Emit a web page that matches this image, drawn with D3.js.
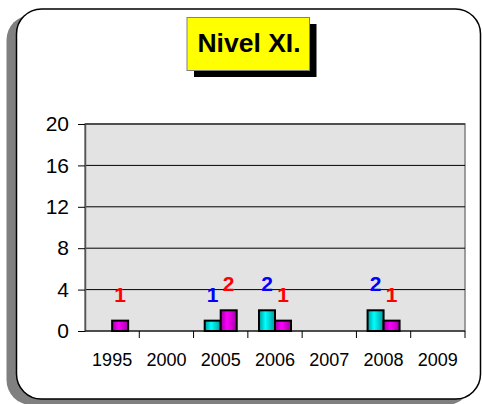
<!DOCTYPE html>
<html>
  <head>
    <meta charset="utf-8" />
    <script src="https://d3js.org/d3.v7.min.js"></script>
    <style>
      body { margin: 0; background: #fff; }
      svg { display: block; font-family: Arial, "Liberation Sans", sans-serif; }
    </style>
  </head>
  <body>
    <svg id="chart" width="482" height="404"></svg>
    <script>
      // chart values
      var years = ["1995", "2000", "2005", "2006", "2007", "2008", "2009"];
      var serieA = [null, null, 1, 2, null, 2, null]; // cyan, blue labels
      var serieB = [1, null, 2, 1, null, 1, null];    // magenta, red labels
      var yTicks = [0, 4, 8, 12, 16, 20];
      var titulo = "Nivel XI.";

      var svg = d3.select("#chart");
      var defs = svg.append("defs");

      function grad(id, dark, light) {
        var g = defs.append("linearGradient").attr("id", id)
          .attr("x1", "0%").attr("x2", "100%").attr("y1", "0%").attr("y2", "0%");
        g.append("stop").attr("offset", "0%").attr("stop-color", dark);
        g.append("stop").attr("offset", "40%").attr("stop-color", light);
        g.append("stop").attr("offset", "100%").attr("stop-color", dark);
      }
      grad("gA", "#009a9a", "#00ffff");
      grad("gB", "#a000a0", "#ff00ff");

      // card + shadow
      svg.append("rect").attr("x", 6.5).attr("y", 15).attr("width", 465).attr("height", 390)
        .attr("rx", 25).attr("fill", "#808080");
      svg.append("rect").attr("x", 16.5).attr("y", 9).attr("width", 464).attr("height", 390)
        .attr("rx", 25).attr("fill", "#fff").attr("stroke", "#000").attr("stroke-width", 1.5);

      var margin = { left: 85, right: 17, top: 124, bottom: 73 };
      var W = 482, H = 404;

      var x = d3.scaleBand().domain(years).range([margin.left, W - margin.right]);
      var y = d3.scaleLinear().domain([0, 20]).range([H - margin.bottom, margin.top]);

      // plot area
      svg.append("rect").attr("x", x.range()[0]).attr("y", y(20))
        .attr("width", x.range()[1] - x.range()[0]).attr("height", y(0) - y(20))
        .attr("fill", "#e3e3e3").attr("stroke", "#808080").attr("stroke-width", 1.5);

      // gridlines
      svg.append("g").selectAll("line").data(yTicks.filter(function (d) { return d > 0; }))
        .join("line")
        .attr("x1", margin.left).attr("x2", W - margin.right)
        .attr("y1", function (d) { return y(d); }).attr("y2", function (d) { return y(d); })
        .attr("stroke", "#000").attr("stroke-width", 1);

      // y axis
      var yAxis = svg.append("g").attr("transform", "translate(" + margin.left + ",0)")
        .call(d3.axisLeft(y).tickValues(yTicks).tickSize(7).tickPadding(9).tickSizeOuter(0));
      yAxis.select(".domain").attr("stroke", "#555").attr("stroke-width", 1.5);
      yAxis.selectAll(".tick line").attr("stroke", "#000");
      yAxis.selectAll("text").attr("font-size", 21).attr("fill", "#000")
        .attr("font-family", "Arial, 'Liberation Sans', sans-serif");

      // x axis (ticks at category boundaries)
      var bounds = years.map(function (d) { return x(d); }).concat([x.range()[1]]);
      svg.append("line").attr("x1", margin.left).attr("x2", W - margin.right)
        .attr("y1", y(0)).attr("y2", y(0)).attr("stroke", "#000").attr("stroke-width", 1.2);
      svg.append("g").selectAll("line").data(bounds.slice(1)).join("line")
        .attr("x1", function (d) { return d; }).attr("x2", function (d) { return d; })
        .attr("y1", y(0)).attr("y2", y(0) + 7).attr("stroke", "#000");
      svg.append("g").selectAll("text").data(years).join("text")
        .attr("x", function (d) { return x(d) + x.bandwidth() / 2; })
        .attr("y", y(0) + 35)
        .attr("text-anchor", "middle").attr("font-size", 18)
        .text(function (d) { return d; });

      // bars
      var bw = 16;
      var series = [
        { vals: serieA, fill: "url(#gA)", label: "#0000ff", off: -bw },
        { vals: serieB, fill: "url(#gB)", label: "#ff0000", off: 0 }
      ];
      series.forEach(function (s) {
        var pts = years.map(function (yr, i) { return { yr: yr, v: s.vals[i] }; })
          .filter(function (d) { return d.v != null; });
        svg.append("g").selectAll("rect").data(pts).join("rect")
          .attr("x", function (d) { return x(d.yr) + x.bandwidth() / 2 + s.off; })
          .attr("y", function (d) { return y(d.v); })
          .attr("width", bw)
          .attr("height", function (d) { return y(0) - y(d.v); })
          .attr("fill", s.fill).attr("stroke", "#000").attr("stroke-width", 2);
        svg.append("g").selectAll("text").data(pts).join("text")
          .attr("x", function (d) { return x(d.yr) + x.bandwidth() / 2 + s.off + bw / 2; })
          .attr("y", function (d) { return y(d.v) - 19; })
          .attr("text-anchor", "middle").attr("font-size", 21).attr("font-weight", "bold")
          .attr("fill", s.label)
          .text(function (d) { return d.v; });
      });

      // title box
      svg.append("rect").attr("x", 194).attr("y", 24).attr("width", 122.5).attr("height", 53)
        .attr("fill", "#000");
      svg.append("rect").attr("x", 187).attr("y", 17.5).attr("width", 122.5).attr("height", 53)
        .attr("fill", "#ffff00").attr("stroke", "#808080").attr("stroke-width", 1);
      svg.append("text").attr("x", 249).attr("y", 52).attr("text-anchor", "middle")
        .attr("font-size", 26.5).attr("font-weight", "bold").text(titulo);
    </script>
  </body>
</html>
